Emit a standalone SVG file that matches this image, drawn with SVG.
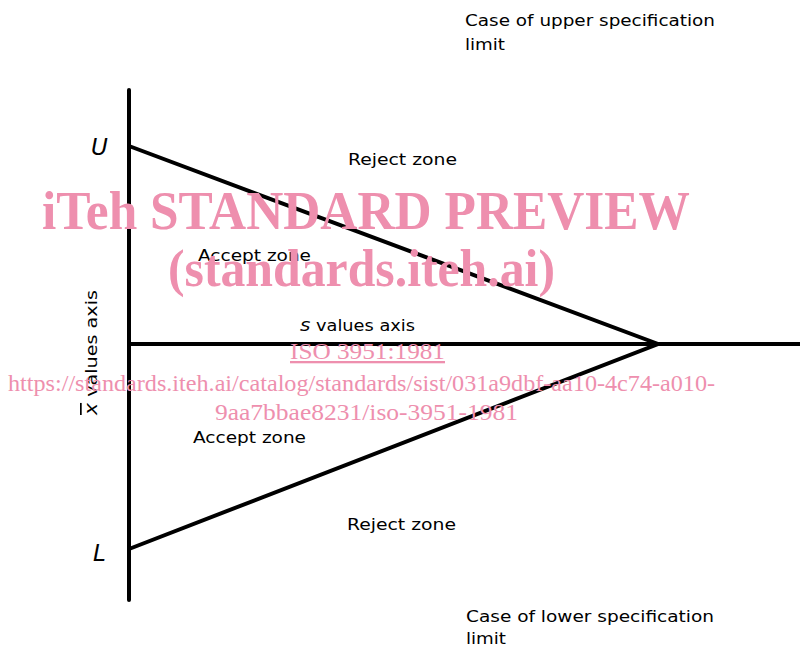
<svg xmlns="http://www.w3.org/2000/svg" width="800" height="648" viewBox="0 0 800 648">
<style>
.t{font-family:"DejaVu Sans","Liberation Sans",Arial,sans-serif;font-size:16px;fill:#000}
.v{font-family:"DejaVu Sans","Liberation Sans",Arial,sans-serif;font-size:23px;font-style:italic;fill:#000}
.ax{stroke:#000;stroke-width:4;fill:none;stroke-linecap:round}
.ln{stroke:#000;stroke-width:4;fill:none}
.wm{font-family:"Liberation Serif","Times New Roman",serif;fill:#ee8fae}
</style>
<rect width="800" height="648" fill="#fff"/>
<g id="connectors">
<line class="ax" x1="129" y1="90" x2="129" y2="600"/>
<line class="ln" x1="129" y1="344" x2="800" y2="344"/>
<polyline class="ln" points="129,146 658,344 129,549" stroke-linejoin="miter"/>
</g>
<g id="labels">
<text class="t" x="465" y="26" textLength="250" lengthAdjust="spacingAndGlyphs">Case of upper specification</text>
<text class="t" x="465" y="50" textLength="40" lengthAdjust="spacingAndGlyphs">limit</text>
<text class="t" x="348" y="165" textLength="109" lengthAdjust="spacingAndGlyphs">Reject zone</text>
<text class="t" x="198" y="261" textLength="113" lengthAdjust="spacingAndGlyphs">Accept zone</text>
<text class="t" x="300" y="331" textLength="115" lengthAdjust="spacingAndGlyphs"><tspan font-style="italic" font-size="18">s</tspan> values axis</text>
<text class="t" x="193" y="443" textLength="113" lengthAdjust="spacingAndGlyphs">Accept zone</text>
<text class="t" x="347" y="530" textLength="109" lengthAdjust="spacingAndGlyphs">Reject zone</text>
<text class="t" x="466" y="622" textLength="248" lengthAdjust="spacingAndGlyphs">Case of lower specification</text>
<text class="t" x="466" y="644" textLength="40" lengthAdjust="spacingAndGlyphs">limit</text>
<text class="v" x="91" y="155">U</text>
<text class="v" x="93" y="561">L</text>
<text class="t" transform="translate(97,415) rotate(-90)" textLength="125" lengthAdjust="spacingAndGlyphs"><tspan font-style="italic" font-size="17" text-decoration="overline">x</tspan> values axis</text>
</g>
<g id="watermark">
<text class="wm" x="42" y="229" font-size="54" font-weight="bold" textLength="648" lengthAdjust="spacingAndGlyphs">iTeh STANDARD PREVIEW</text>
<text class="wm" x="168" y="286" font-size="52" font-weight="bold" textLength="387" lengthAdjust="spacingAndGlyphs">(standards.iteh.ai)</text>
<text class="wm" x="290" y="359" font-size="23" textLength="155" lengthAdjust="spacingAndGlyphs" text-decoration="underline">ISO 3951:1981</text>
<text class="wm" x="8" y="391" font-size="24" textLength="707" lengthAdjust="spacingAndGlyphs">https://standards.iteh.ai/catalog/standards/sist/031a9dbf-aa10-4c74-a010-</text>
<text class="wm" x="215" y="420" font-size="24" textLength="303" lengthAdjust="spacingAndGlyphs">9aa7bbae8231/iso-3951-1981</text>
</g>
</svg>
